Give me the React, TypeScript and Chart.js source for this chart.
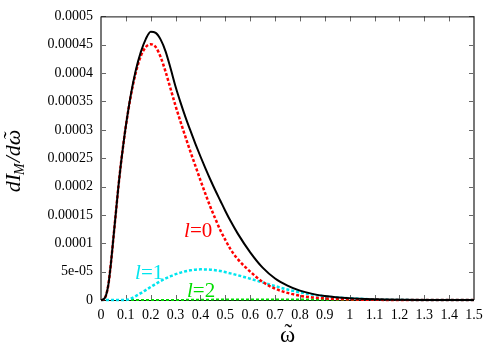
import React, { useEffect, useRef } from "react";
import { Chart, registerables } from "chart.js";

Chart.register(...registerables);

// ---- data ----
const totalOmega = [0, 0.01, 0.02, 0.03, 0.04, 0.05, 0.06, 0.07, 0.08, 0.09, 0.1, 0.12, 0.14, 0.16, 0.18, 0.2, 0.22, 0.24, 0.26, 0.28, 0.3, 0.32, 0.34, 0.36, 0.38, 0.4, 0.42, 0.44, 0.46, 0.48, 0.5, 0.52, 0.55, 0.6, 0.65, 0.7, 0.75, 0.8, 0.85, 0.9, 1.0, 1.1, 1.2, 1.3, 1.5];
const totalValues = [0, 0.000001, 0.000008, 0.000028, 0.000065, 0.00011, 0.000155, 0.0002, 0.00024, 0.000275, 0.000307, 0.000362, 0.000405, 0.000437, 0.00046, 0.000473, 0.000471, 0.000459, 0.000438, 0.000408, 0.000376, 0.000348, 0.000322, 0.000298, 0.000275, 0.000253, 0.000232, 0.000212, 0.000193, 0.000175, 0.000157, 0.00014, 0.000117, 0.000084, 0.000057, 0.000038, 0.0000255, 0.0000165, 0.0000108, 0.000007, 0.000003, 0.0000012, 0.0000004, 0.0000001, 0];

const l0Omega = [0, 0.01, 0.02, 0.03, 0.04, 0.05, 0.06, 0.07, 0.08, 0.09, 0.1, 0.12, 0.14, 0.16, 0.18, 0.2, 0.22, 0.24, 0.26, 0.28, 0.3, 0.32, 0.34, 0.36, 0.38, 0.4, 0.42, 0.44, 0.46, 0.48, 0.5, 0.52, 0.55, 0.6, 0.65, 0.7, 0.75, 0.8, 0.85, 0.9, 1.0, 1.1, 1.2, 1.5];
const l0Values = [0, 0.000001, 0.000008, 0.000028, 0.000065, 0.00011, 0.000155, 0.0002, 0.00024, 0.000275, 0.000307, 0.00036, 0.000401, 0.00043, 0.000446, 0.000451, 0.000446, 0.000428, 0.000402, 0.000372, 0.000342, 0.000314, 0.000287, 0.000261, 0.000236, 0.000211, 0.000187, 0.000164, 0.000143, 0.000123, 0.000106, 0.00009, 0.000072, 0.00005, 0.000032, 0.00002, 0.0000125, 0.0000075, 0.0000045, 0.0000028, 0.000001, 0.00000035, 0.0000001, 0];

const l1Omega = [0, 0.1, 0.11, 0.12, 0.14, 0.16, 0.18, 0.2, 0.22, 0.24, 0.26, 0.28, 0.3, 0.33, 0.36, 0.4, 0.44, 0.48, 0.52, 0.56, 0.6, 0.65, 0.7, 0.75, 0.8, 0.85, 0.9, 1.0, 1.1, 1.2, 1.3, 1.5];
const l1Values = [0, 0, 0.0000008, 0.0000025, 0.000007, 0.000012, 0.0000175, 0.000023, 0.0000285, 0.0000335, 0.000038, 0.000042, 0.0000455, 0.0000495, 0.0000523, 0.000054, 0.0000535, 0.000051, 0.000047, 0.0000425, 0.0000375, 0.000031, 0.0000245, 0.0000185, 0.0000135, 0.0000095, 0.0000065, 0.000003, 0.0000012, 0.0000004, 0.0000001, 0];

const l2Omega = [0, 0.2, 0.3, 0.5, 0.7, 0.9, 1.2, 1.5];
const l2Values = [0, 0, 0.0000001, 0.0000008, 0.000001, 0.0000006, 0.0000001, 0];

const xTickLabels = ["0", "0.1", "0.2", "0.3", "0.4", "0.5", "0.6", "0.7", "0.8", "0.9", "1", "1.1", "1.2", "1.3", "1.4", "1.5"];
const yTickLabels = ["0", "5e-05", "0.0001", "0.00015", "0.0002", "0.00025", "0.0003", "0.00035", "0.0004", "0.00045", "0.0005"];

const curveLabels = [
  { l: "l", rest: "=0", x: 0.334, y: 0.000111, color: "#ff0000" },
  { l: "l", rest: "=1", x: 0.137, y: 0.000037, color: "#00e5ee" },
  { l: "l", rest: "=2", x: 0.346, y: 0.0000053, color: "#00dd00" },
];

const zip = (xs: number[], ys: number[]) => xs.map((x, i) => ({ x, y: ys[i] }));

const SERIF = "'Liberation Serif', 'DejaVu Serif', serif";

// draws ω with a tilde above, starting at x (left aligned); returns width
function drawOmegaTilde(ctx: CanvasRenderingContext2D, x: number, y: number, font: string, size: number) {
  ctx.font = font;
  ctx.textAlign = "left";
  const w = ctx.measureText("\u03c9").width;
  ctx.fillText("\u03c9", x, y);
  const tw = ctx.measureText("\u02dc").width;
  ctx.fillText("\u02dc", x + (w - tw) / 2 + size * 0.04, y - size * 0.08);
  return w;
}

const framePlugin = {
  id: "frame",
  beforeDatasetsDraw(chart: any) {
    const { ctx, chartArea } = chart;
    const { left, right, top, bottom } = chartArea;
    const xs = chart.scales.x;
    const ys = chart.scales.y;
    ctx.save();
    ctx.strokeStyle = "#666";
    ctx.lineWidth = 1;
    const tl = 5;
    xs.ticks.forEach((t: any) => {
      const px = Math.round(xs.getPixelForValue(t.value)) + 0.5;
      ctx.beginPath();
      ctx.moveTo(px, bottom);
      ctx.lineTo(px, bottom - tl);
      ctx.moveTo(px, top);
      ctx.lineTo(px, top + tl);
      ctx.stroke();
    });
    ys.ticks.forEach((t: any) => {
      const py = Math.round(ys.getPixelForValue(t.value)) + 0.5;
      ctx.beginPath();
      ctx.moveTo(left, py);
      ctx.lineTo(left + tl, py);
      ctx.moveTo(right, py);
      ctx.lineTo(right - tl, py);
      ctx.stroke();
    });
    ctx.strokeStyle = "#777";
    ctx.lineWidth = 2;
    ctx.beginPath();
    ctx.moveTo(left, top);
    ctx.lineTo(left, bottom);
    ctx.moveTo(right, top);
    ctx.lineTo(right, bottom);
    ctx.stroke();
    ctx.strokeStyle = "#111";
    ctx.lineWidth = 1;
    ctx.beginPath();
    ctx.moveTo(left, top + 0.5);
    ctx.lineTo(right, top + 0.5);
    ctx.moveTo(left, bottom + 0.5);
    ctx.lineTo(right, bottom + 0.5);
    ctx.stroke();
    ctx.restore();
  },
  afterDatasetsDraw(chart: any) {
    const { ctx, chartArea } = chart;
    const xs = chart.scales.x;
    const ys = chart.scales.y;
    ctx.save();
    ctx.textBaseline = "alphabetic";
    // curve labels
    curveLabels.forEach((c) => {
      const px = xs.getPixelForValue(c.x);
      const py = ys.getPixelForValue(c.y);
      ctx.fillStyle = c.color;
      ctx.textAlign = "left";
      ctx.font = `italic 21px ${SERIF}`;
      ctx.fillText(c.l, px, py);
      const w = ctx.measureText(c.l).width;
      ctx.font = `21px ${SERIF}`;
      ctx.fillText(c.rest, px + w, py);
    });
    // x axis title
    ctx.fillStyle = "#000";
    {
      const f = `23px ${SERIF}`;
      ctx.font = f;
      const w = ctx.measureText("\u03c9").width;
      drawOmegaTilde(ctx, (chartArea.left + chartArea.right) / 2 - w / 2, 342, f, 23);
    }
    // y axis title
    ctx.translate(20, 161);
    ctx.rotate(-Math.PI / 2);
    const big = `italic 22px ${SERIF}`;
    const small = `italic 14px ${SERIF}`;
    ctx.font = big;
    const wd = ctx.measureText("dI").width;
    const wsl = ctx.measureText("/d").width;
    const wo = ctx.measureText("\u03c9").width;
    ctx.font = small;
    const wm = ctx.measureText("M").width;
    const total = wd + wm + wsl + wo;
    let x = -total / 2;
    ctx.textAlign = "left";
    ctx.font = big;
    ctx.fillText("dI", x, 0);
    x += wd;
    ctx.font = small;
    ctx.fillText("M", x - 1, 4);
    x += wm;
    ctx.font = big;
    ctx.fillText("/d", x, 0);
    x += wsl;
    drawOmegaTilde(ctx, x, 0, big, 22);
    ctx.restore();
  },
};

export default function App() {
  const ref = useRef<HTMLCanvasElement>(null);
  useEffect(() => {
    if (!ref.current) return;
    const chart = new Chart(ref.current, {
      type: "line",
      data: {
        datasets: [
          {
            data: zip(totalOmega, totalValues),
            borderColor: "#000",
            borderWidth: 2,
            pointRadius: 0,
            cubicInterpolationMode: "monotone",
            clip: 4,
          },
          {
            data: zip(l0Omega, l0Values),
            borderColor: "#ff0000",
            borderWidth: 2.5,
            borderDash: [3, 2],
            pointRadius: 0,
            cubicInterpolationMode: "monotone",
            clip: 4,
          },
          {
            data: zip(l1Omega, l1Values),
            borderColor: "#00e5ee",
            borderWidth: 2.5,
            borderDash: [3, 2],
            pointRadius: 0,
            cubicInterpolationMode: "monotone",
            clip: 4,
          },
          {
            data: zip(l2Omega, l2Values),
            borderColor: "#00dd00",
            borderWidth: 2,
            borderDash: [3, 2],
            pointRadius: 0,
            cubicInterpolationMode: "monotone",
            clip: 4,
          },
        ],
      } as any,
      options: {
        animation: false,
        responsive: false,
        layout: { padding: { left: 0, top: 16, right: 24, bottom: 0 } },
        plugins: { legend: { display: false }, tooltip: { enabled: false } },
        scales: {
          x: {
            type: "linear",
            min: 0,
            max: 1.5,
            grid: { display: false, drawTicks: false },
            border: { display: false },
            ticks: {
              stepSize: 0.1,
              autoSkip: false,
              maxRotation: 0,
              padding: 7,
              color: "#000",
              font: { family: SERIF, size: 14 },
              callback: (_v: any, i: number) => xTickLabels[i],
            },
            afterFit: (s: any) => {
              s.height = 49;
            },
          },
          y: {
            type: "linear",
            min: 0,
            max: 0.0005,
            grid: { display: false, drawTicks: false },
            border: { display: false },
            ticks: {
              stepSize: 0.00005,
              autoSkip: false,
              padding: 8,
              color: "#000",
              font: { family: SERIF, size: 14 },
              callback: (_v: any, i: number) => yTickLabels[i],
            },
            afterFit: (s: any) => {
              s.width = 101;
            },
          },
        },
      } as any,
      plugins: [framePlugin],
    });
    return () => chart.destroy();
  }, []);
  return (
    <div style={{ position: "absolute", left: 0, top: 0, width: 498, height: 349, background: "#fff" }}>
      <canvas ref={ref} width={498} height={349} style={{ display: "block" }} />
    </div>
  );
}
